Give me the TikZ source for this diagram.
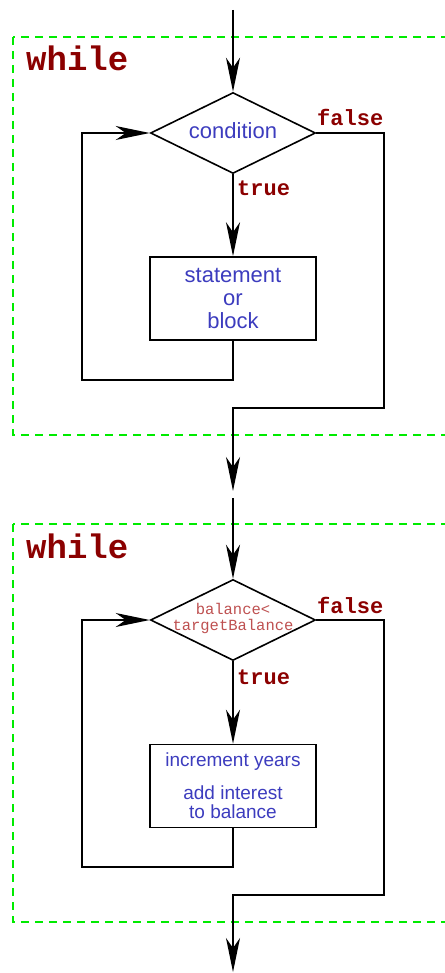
\documentclass[tikz,border=0pt]{standalone}
\usepackage{fontspec}
\setmainfont{Liberation Sans}
\newfontfamily\monofont{Liberation Mono}
\usetikzlibrary{arrows.meta,shapes.geometric}
\definecolor{kwred}{RGB}{139,0,0}
\definecolor{txtblue}{RGB}{60,60,190}
\definecolor{exprred}{RGB}{190,80,80}
\definecolor{dashgreen}{RGB}{0,235,0}
\tikzset{
  bigkw/.style={font=\monofont\bfseries\fontsize{34}{34}\selectfont, text=kwred, inner sep=0pt},
  kw/.style={font=\monofont\bfseries\fontsize{22}{22}\selectfont, text=kwred, inner sep=0pt},
  frame/.style={draw=dashgreen, dash pattern=on 8pt off 6pt, line width=1.6pt},
  dia/.style={draw, diamond, minimum width=165pt, minimum height=81pt, inner sep=0pt, line width=1.6pt},
  stmt/.style={draw, rectangle, minimum width=166pt, minimum height=83pt, inner sep=0pt, align=center, text=txtblue, line width=1.6pt},
  flow/.style={line width=1.6pt},
  arr/.style={flow, -{Stealth[length=34pt,width=14pt,inset=10pt]}},
}
\begin{document}
\begin{tikzpicture}[x=1pt,y=-1pt]
\useasboundingbox (0,0) rectangle (444,973);
% frames
\draw[frame] (13,37) rectangle (470,435);
\draw[frame] (13,524) rectangle (470,922);

% ---------- top diagram ----------
\node[bigkw, anchor=base west] (w1) at (26,71) {while};
\node[dia] (d1) at (233,133) {};
\node[text=txtblue, font=\fontsize{22}{23}\selectfont, anchor=base, inner sep=0pt] (d1t) at (233,139) {condition};
\node[stmt, font=\fontsize{22}{23}\selectfont] (b1) at (233,298.5) {statement\\or\\block};
\node[kw, anchor=base west] (f1l) at (317,126) {false};
\node[kw, anchor=base west] (t1l) at (237,196) {true};
\coordinate (s1) at (233,10);
\coordinate (f1) at (384,408);
\coordinate (e1) at (233,491);
\coordinate (l1) at (82,380);
\draw[arr] (s1) -- (d1.north);
\draw[arr] (d1.south) -- (b1.north);
\draw[arr] (b1.south) |- (l1) |- (d1.west);
\draw[arr] (d1.east) -| (f1) -| (e1);

% ---------- bottom diagram ----------
\node[bigkw, anchor=base west] (w2) at (26,558) {while};
\node[dia] (d2) at (233,620) {};
\node[text=exprred, font=\monofont\fontsize{15.5}{16}\selectfont, align=center, inner sep=0pt] (d2t) at (233,618) {balance<\\targetBalance};
\node[stmt, font=\fontsize{19}{19}\selectfont] (b2) at (233,786) {increment years\\[14pt]add interest\\to balance};
\node[kw, anchor=base west] (f2l) at (317,613) {false};
\node[kw, anchor=base west] (t2l) at (237,684) {true};
\coordinate (s2) at (233,498);
\coordinate (f2) at (384,895);
\coordinate (e2) at (233,972);
\coordinate (l2) at (82,867);
\draw[arr] (s2) -- (d2.north);
\draw[arr] (d2.south) -- (b2.north);
\draw[arr] (b2.south) |- (l2) |- (d2.west);
\draw[arr] (d2.east) -| (f2) -| (e2);
\end{tikzpicture}
\end{document}
